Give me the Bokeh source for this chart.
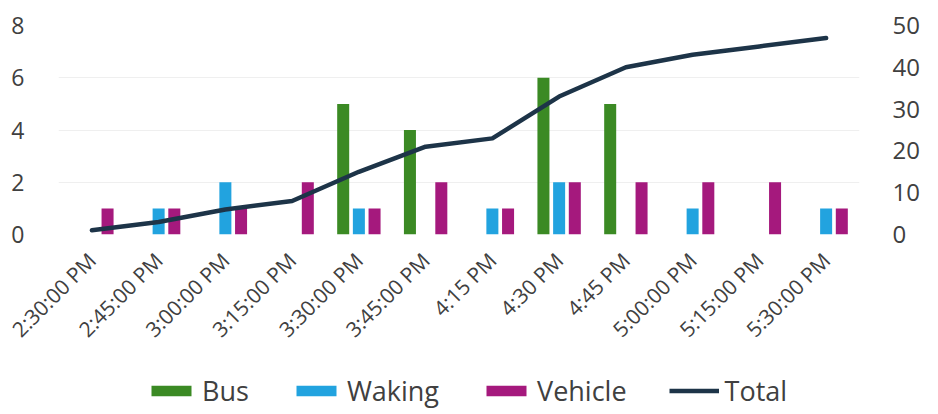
from bokeh.plotting import figure
from bokeh.models import (ColumnDataSource, FactorRange, Range1d, LinearAxis,
                          FixedTicker, Legend, LegendItem)
from bokeh.layouts import column
from bokeh.transform import dodge
from bokeh.embed import file_html
from bokeh.resources import INLINE
import math

categories = ["2:30:00 PM", "2:45:00 PM", "3:00:00 PM", "3:15:00 PM", "3:30:00 PM",
              "3:45:00 PM", "4:15 PM", "4:30 PM", "4:45 PM", "5:00:00 PM",
              "5:15:00 PM", "5:30:00 PM"]
bus = [0, 0, 0, 0, 5, 4, 0, 6, 5, 0, 0, 0]
walking = [0, 1, 2, 0, 1, 0, 1, 2, 0, 1, 0, 1]
vehicle = [1, 1, 1, 2, 1, 2, 1, 2, 2, 2, 2, 1]
total = [1, 3, 6, 8, 15, 21, 23, 33, 40, 43, 45, 47]
series_names = ["Bus", "Waking", "Vehicle", "Total"]
left_ticks = [0, 2, 4, 6, 8]
right_ticks = [0, 10, 20, 30, 40, 50]

src = ColumnDataSource(dict(cat=categories, bus=bus, walking=walking,
                            vehicle=vehicle, total=total))

FONT = "Open Sans"
TXT = "#404040"
C_BUS, C_WALK, C_VEH, C_TOT = "#3b8a24", "#22a3df", "#a5197d", "#1d3448"

p = figure(x_range=FactorRange(factors=categories, range_padding=0),
           y_range=Range1d(0, 8), width=922, height=355,
           output_backend="svg", toolbar_location=None,
           min_border_left=58, min_border_right=60, min_border_top=25,
           min_border_bottom=0)
p.extra_y_ranges = {"right": Range1d(0, 50)}
p.outline_line_color = None
p.background_fill_color = "white"
p.border_fill_color = "white"

w = 0.18
p.vbar(x=dodge("cat", -0.235, range=p.x_range), top="bus", width=w,
       source=src, color=C_BUS, line_color=None)
p.vbar(x=dodge("cat", 0.0, range=p.x_range), top="walking", width=w,
       source=src, color=C_WALK, line_color=None)
p.vbar(x=dodge("cat", 0.235, range=p.x_range), top="vehicle", width=w,
       source=src, color=C_VEH, line_color=None)
p.line(x="cat", y="total", source=src, y_range_name="right",
       line_color=C_TOT, line_width=4.5, line_join="round", line_cap="round")

# left axis
ax = p.yaxis[0]
ax.ticker = FixedTicker(ticks=left_ticks)
ax.axis_line_color = None
ax.major_tick_line_color = None
ax.minor_tick_line_color = None
ax.major_tick_out = 0
ax.major_tick_in = 0
ax.major_label_text_font = FONT
ax.major_label_text_font_size = "23px"
ax.major_label_text_color = TXT
ax.major_label_standoff = 34

# right axis
rax = LinearAxis(y_range_name="right", ticker=FixedTicker(ticks=right_ticks))
rax.axis_line_color = None
rax.major_tick_line_color = None
rax.minor_tick_line_color = None
rax.major_tick_out = 0
rax.major_tick_in = 0
rax.major_label_text_font = FONT
rax.major_label_text_font_size = "24px"
rax.major_label_text_color = TXT
rax.major_label_standoff = 33
p.add_layout(rax, "right")

# x axis
xa = p.xaxis[0]
xa.axis_line_color = None
xa.major_tick_line_color = None
xa.minor_tick_line_color = None
xa.major_tick_out = 0
xa.major_tick_in = 0
xa.major_label_orientation = math.pi / 4
xa.major_label_text_font = FONT
xa.major_label_text_font_size = "21px"
xa.major_label_text_color = TXT
xa.major_label_standoff = 22

p.xgrid.grid_line_color = None
p.ygrid.ticker = FixedTicker(ticks=left_ticks)
p.ygrid.grid_line_color = "#efefef"
p.ygrid.grid_line_width = 1

# legend strip below the chart (its glyphs lie outside its visible range,
# so only the legend itself shows)
p2 = figure(width=922, height=55, output_backend="svg", toolbar_location=None,
            x_range=FactorRange(factors=categories), y_range=Range1d(100, 110),
            x_axis_type=None, y_axis_type=None, min_border=0)
p2.outline_line_color = None
p2.xgrid.grid_line_color = None
p2.ygrid.grid_line_color = None
l_bus = p2.vbar(x="cat", top="bus", width=w, source=src, color=C_BUS,
                line_color=None)
l_walk = p2.vbar(x="cat", top="walking", width=w, source=src, color=C_WALK,
                 line_color=None)
l_veh = p2.vbar(x="cat", top="vehicle", width=w, source=src, color=C_VEH,
                line_color=None)
l_tot = p2.line(x="cat", y="total", source=src, line_color=C_TOT,
                line_width=4.5)

legend = Legend(items=[LegendItem(label=series_names[0], renderers=[l_bus]),
                       LegendItem(label=series_names[1], renderers=[l_walk]),
                       LegendItem(label=series_names[2], renderers=[l_veh]),
                       LegendItem(label=series_names[3], renderers=[l_tot])],
                orientation="horizontal", location=(88, 1),
                label_text_font=FONT, label_text_font_size="27px",
                label_text_color=TXT, glyph_width=50, glyph_height=13,
                label_standoff=6, spacing=42, border_line_color=None,
                background_fill_alpha=0, padding=0, margin=0)
p2.add_layout(legend, "center")

open("out.html", "w").write(file_html(column(p, p2), INLINE))
